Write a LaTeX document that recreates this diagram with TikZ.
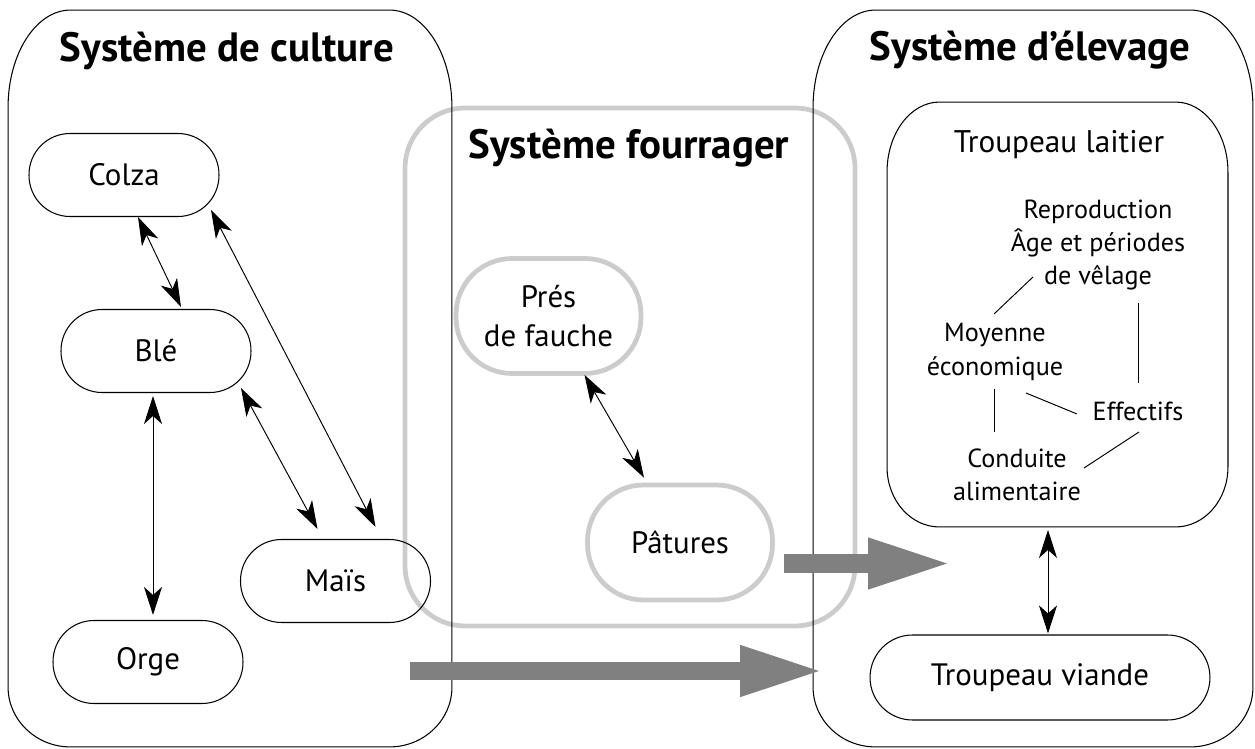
\documentclass[tikz,border=0pt]{standalone}
\usepackage{fontspec}
\setmainfont{PT Sans}
\usetikzlibrary{arrows.meta,calc}
\definecolor{framegrey}{HTML}{CCCCCC}
\definecolor{flowgrey}{HTML}{808080}

% outline of a node with elliptical corners:
% #1 node name, #2 horizontal radius, #3 vertical radius (top), #4 vertical radius (bottom)
\newcommand{\ovalframe}[4]{%
  \draw[line width=0.6pt] ([xshift=#2]#1.north west) -- ([xshift=-#2]#1.north east)
    arc[start angle=90,end angle=0,x radius=#2,y radius=#3]
    -- ([yshift=#4]#1.south east)
    arc[start angle=0,end angle=-90,x radius=#2,y radius=#4]
    -- ([xshift=#2]#1.south west)
    arc[start angle=-90,end angle=-180,x radius=#2,y radius=#4]
    -- ([yshift=-#3]#1.north west)
    arc[start angle=180,end angle=90,x radius=#2,y radius=#3] -- cycle;}

\begin{document}
\begin{tikzpicture}[x=0.02cm,y=-0.02cm,
  area/.style={inner sep=0pt, outer sep=0pt},
  heading/.style={font=\fontsize{23.3}{26}\selectfont\bfseries, anchor=base, inner sep=0pt},
  crop/.style={draw, line width=0.6pt, rounded corners=0.82cm, minimum width=3.8cm,
    minimum height=1.66cm, font=\fontsize{17.6}{21}\selectfont, inner sep=0pt},
  forage/.style={draw=framegrey, line width=2.7pt, rounded corners=1.12cm, minimum width=3.7cm,
    minimum height=2.3cm, align=center, font=\fontsize{17.6}{22}\selectfont, inner sep=0pt},
  factor/.style={align=center, font=\fontsize{14.9}{19}\selectfont, inner sep=0pt},
  link/.style={line width=0.55pt},
  both/.style={link, {Stealth[length=0.56cm,width=0.36cm,inset=0.16cm]}-{Stealth[length=0.56cm,width=0.36cm,inset=0.16cm]}},
  flow/.style={draw=flowgrey, line width=0.37cm, -{Triangle[length=1.7cm,width=0.92cm]}}
]
\useasboundingbox (0,0) rectangle (1255,749);

% forage system frame, drawn first so the black outlines lie on top
\node[draw=framegrey, line width=2.7pt, rounded corners=1.2cm, minimum width=9.0cm,
  minimum height=10.36cm, inner sep=0pt] (fourrager) at (630,367) {};

% the two main systems
\node[area, minimum width=8.88cm, minimum height=14.74cm] (culture) at (230,378.5) {};
\node[area, minimum width=8.8cm, minimum height=14.74cm] (elevage) at (1033,378.5) {};
\ovalframe{culture}{1.25cm}{1.95cm}{1.2cm}
\ovalframe{elevage}{1.25cm}{1.95cm}{1.2cm}

\node[heading] (tculture) at (227,62) {Système de culture};
\node[heading] (televage) at (1030,61) {Système d’élevage};
\node[heading] (tfourrager) at (629,159) {Système fourrager};

% crops
\node[crop] (colza) at (124,175) {Colza};
\node[crop] (ble) at (156,351) {Blé};
\node[crop] (mais) at (335.5,581) {Maïs};
\node[crop] (orge) at (148,662) {Orge};

\draw[both] ($(colza.south)+(14,0)$) -- ($(ble.north)+(25,-2)$);
\draw[both] ($(colza)+(87,35)$) -- ($(mais.north)+(40,-12)$);
\draw[both] ($(ble)+(85,37)$) -- ($(mais.north)+(-18,-10)$);
\draw[both] ($(ble.south)+(-3,3)$) -- ($(orge.north)+(5,-5)$);

% forage resources
\node[forage] (pres) at (548.5,316) {Prés\\de fauche};
\node[forage] (paturages) at (680,542.5) {Pâtures};
\draw[both] ($(pres.south)+(36,-1)$) -- ($(paturages.north)+(-36,-5)$);

% dairy herd
\node[area, minimum width=6.82cm, minimum height=8.5cm] (laitier) at (1057.5,314.5) {};
\ovalframe{laitier}{1.05cm}{1.4cm}{1.2cm}
\node[font=\fontsize{17.8}{21}\selectfont, anchor=base, inner sep=0pt] (tlaitier) at (1059,153) {Troupeau laitier};

\node[factor] (repro) at (1098,245) {Reproduction\\Âge et périodes\\de vêlage};
\node[factor] (moy) at (995,352) {Moyenne\\économique};
\node[factor] (eff) at (1138,411) {Effectifs};
\node[factor] (cond) at (1017,475) {Conduite\\alimentaire};

\draw[link] ($(moy)+(-1,-38)$) -- ($(repro)+(-65,32)$);
\draw[link] ($(repro)+(40,58)$) -- ($(eff)+(0,-28)$);
\draw[link] ($(moy)+(-1,37)$) -- ($(cond)+(-23,-43)$);
\draw[link] ($(moy)+(31,41)$) -- ($(eff)+(-61,3)$);
\draw[link] ($(eff)+(1,21)$) -- ($(cond)+(67,-7)$);

% beef herd
\node[crop, minimum width=6.8cm, minimum height=1.7cm, rounded corners=0.85cm] (viande) at (1040,677.5) {Troupeau viande};
\draw[both] ($(laitier.south)+(-9.5,3)$) -- ($(viande.north)+(8,-1)$);

% flows between systems
\coordinate (grassout) at (784,563.5);
\coordinate (dairyin) at (953,563.5);
\coordinate (cropout) at (410,671);
\coordinate (herdin) at (825,671);
\draw[flow] (grassout) -- (dairyin);
\draw[flow] (cropout) -- (herdin);
\end{tikzpicture}
\end{document}
